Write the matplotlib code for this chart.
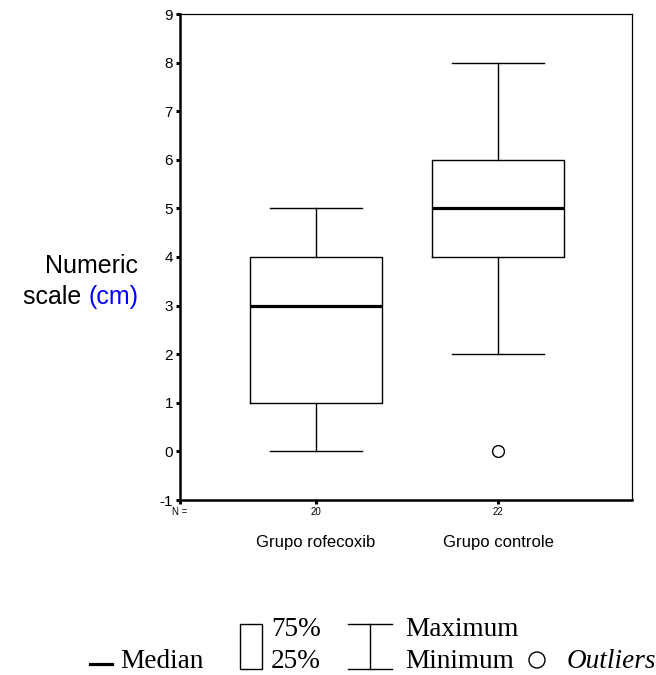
import matplotlib
matplotlib.use('Agg')
import matplotlib.pyplot as plt
from matplotlib.lines import Line2D
from matplotlib.patches import Rectangle, Ellipse

plt.rcParams['font.family'] = ['Liberation Sans', 'DejaVu Sans']

# dados
grupos = ['Grupo rofecoxib', 'Grupo controle']
n_grupo = [20, 22]
minimos = [0, 2]
q1 = [1, 4]
medianas = [3, 5]
q3 = [4, 6]
maximos = [5, 8]
outliers = [[], [0]]
y_ticks = list(range(-1, 10))

W, H = 656, 675
fig = plt.figure(figsize=(W / 100, H / 100), dpi=100)
ax = fig.add_axes([180 / W, 1 - 500 / H, 452 / W, 486 / H])

stats = []
for i in range(len(grupos)):
    stats.append({'whislo': minimos[i], 'q1': q1[i], 'med': medianas[i],
                  'q3': q3[i], 'whishi': maximos[i], 'fliers': outliers[i]})

pos = [1, 2]
ax.bxp(stats, positions=pos, widths=0.72, capwidths=0.51, showfliers=True,
       boxprops=dict(color='black', linewidth=1.0),
       whiskerprops=dict(color='black', linewidth=1.0),
       capprops=dict(color='black', linewidth=1.0),
       medianprops=dict(color='black', linewidth=2.3),
       flierprops=dict(marker='o', markersize=8.5, markerfacecolor='white',
                       markeredgecolor='black', markeredgewidth=1.0))

x0, x1 = 0.253, 2.736
ax.set_xlim(x0, x1)
ax.set_ylim(-1, 9)
ax.set_yticks(y_ticks)
ax.set_yticklabels([str(v) for v in y_ticks], fontsize=11)
ax.set_xticks([x0] + pos)
ax.set_xticklabels(['N ='] + [str(n) for n in n_grupo], fontsize=7)
ax.tick_params(axis='both', direction='out', length=3, width=2.2, pad=2)

for s in ['left', 'bottom']:
    ax.spines[s].set_linewidth(1.8)
for s in ['top', 'right']:
    ax.spines[s].set_linewidth(0.9)

for p, g in zip(pos, grupos):
    ax.text(p, -0.088, g, transform=ax.get_xaxis_transform(),
            ha='center', va='center', fontsize=12)

# rótulo do eixo y (duas linhas, "(cm)" em azul)
fig.text(138 / W, 1 - 266 / H, 'Numeric', ha='right', va='center', fontsize=18)
cm = fig.text(138 / W, 1 - 297 / H, '(cm)', ha='right', va='center',
              fontsize=18, color='blue')
fig.canvas.draw()
bb = cm.get_window_extent()
fig.text(bb.x0 / W, 1 - 297 / H, 'scale ', ha='right', va='center', fontsize=18)

# legenda desenhada
def fx(px):
    return px / W

def fy(py):
    return 1 - py / H

serif = dict(family='Liberation Serif', fontsize=19.6, va='baseline')
top_b, bot_b = 636, 668

fig.add_artist(Line2D([fx(90), fx(112)], [fy(664), fy(664)], color='black',
                      linewidth=2.3, transform=fig.transFigure))
fig.text(fx(120), fy(bot_b), 'Median', ha='left', **serif)

fig.add_artist(Rectangle((fx(240), fy(669)), fx(22), 45 / H, fill=False,
                         edgecolor='black', linewidth=1.0,
                         transform=fig.transFigure))
fig.text(fx(271), fy(top_b), '75%', ha='left', **serif)
fig.text(fx(271), fy(bot_b), '25%', ha='left', **serif)

for yy in [624, 669]:
    fig.add_artist(Line2D([fx(348), fx(392)], [fy(yy), fy(yy)], color='black',
                          linewidth=1.0, transform=fig.transFigure))
fig.add_artist(Line2D([fx(370), fx(370)], [fy(624), fy(669)], color='black',
                      linewidth=1.0, transform=fig.transFigure))
fig.text(fx(405), fy(top_b), 'Maximum', ha='left', **serif)
fig.text(fx(405), fy(bot_b), 'Minimum', ha='left', **serif)

fig.add_artist(Ellipse((fx(537), fy(660)), 16 / W, 16 / H, fill=False,
                       edgecolor='black', linewidth=1.0,
                       transform=fig.transFigure))
fig.text(fx(567), fy(bot_b), 'Outliers', ha='left', style='italic', **serif)

fig.savefig('out.png', dpi=100)
